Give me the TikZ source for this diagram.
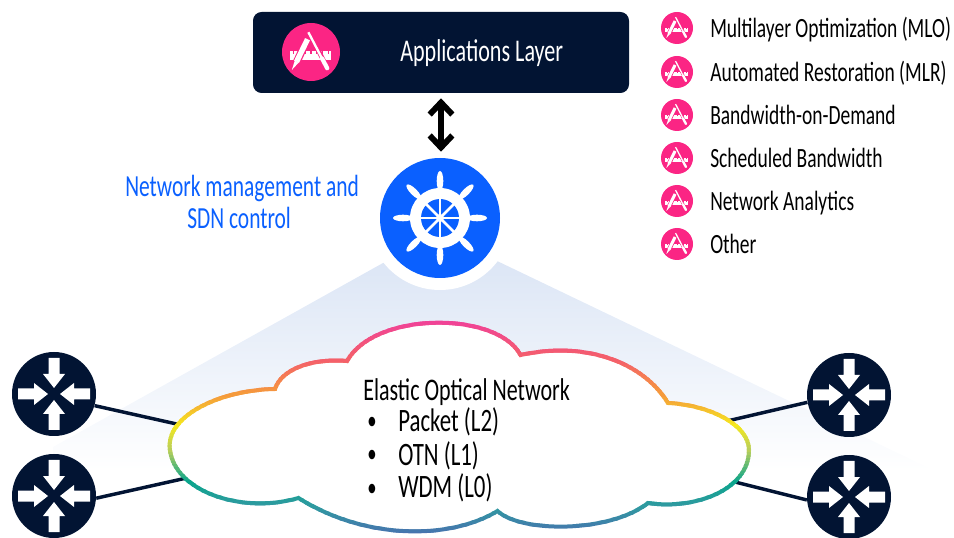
\documentclass[tikz,border=0pt]{standalone}
\usepackage{fontspec}
\usetikzlibrary{arrows.meta}
\newfontfamily\lblfont[FakeStretch=0.70]{Carlito}
\definecolor{navy}{HTML}{021433}
\definecolor{hotpink}{HTML}{FB2584}
\definecolor{hubblue}{HTML}{0A60FF}
\definecolor{beamtop}{HTML}{DBE5F5}
\definecolor{s1}{HTML}{F0409A}
\definecolor{s2}{HTML}{F4606A}
\definecolor{s3}{HTML}{F59A3C}
\definecolor{s4}{HTML}{F5E81E}
\definecolor{s5}{HTML}{B9CF5A}
\definecolor{s6}{HTML}{0AA58C}
\definecolor{s7}{HTML}{2F9AA0}
\definecolor{s8}{HTML}{4A6FB0}
\def\cloudpath{(169.6,445) .. controls (170,415) and (220,390) .. (275,389)
  .. controls (281,370) and (310,358) .. (347,361)
  .. controls (375,311) and (497,311) .. (520.5,355)
  .. controls (590,340) and (645,365) .. (668,403)
  .. controls (710,405) and (749,425) .. (749,450)
  .. controls (749,490) and (695,510) .. (648,503)
  .. controls (610,533) and (521,533) .. (497.5,511)
  .. controls (450,540) and (365,540) .. (298.5,498)
  .. controls (240,515) and (170,490) .. (169.6,445) -- cycle}
\tikzset{
  x=0.75pt,y=-0.75pt,
  routernode/.style={circle,fill=navy,inner sep=0pt,minimum size=63pt},
  pinkdisc/.style={circle,fill=hotpink,inner sep=0pt,minimum size=#1*1.5pt},
  hubnode/.style={circle,fill=hubblue,inner sep=0pt,minimum size=90pt},
  boxnode/.style={rectangle,rounded corners=6.5pt,fill=navy,inner sep=0pt,minimum width=282pt,minimum height=60.75pt},
  lbl/.style={anchor=base west,inner sep=0pt,font=\lblfont\fontsize{#1}{#1}\selectfont},
  link/.style={draw=navy,line width=2.6pt},
  dblarrow/.style={line width=4.4pt,black,{Straight Barb[length=9pt,width=17pt,line width=4.4pt]}-{Straight Barb[length=9pt,width=17pt,line width=4.4pt]}},
  pics/routerglyph/.style={code={
    \foreach \a in {0,90,180,270}{
      \fill[white,rotate=\a] (-5.5,-36) -- (5.5,-36) -- (5.5,-20) -- (11,-20) -- (0,-6) -- (-11,-20) -- (-5.5,-20) -- cycle;
    }}},
  pics/appglyph/.style={code={
    \begin{scope}[scale=#1]
      \fill[white] (-.72,-.02) rectangle (.70,.26);
      \foreach \t in {-.6,-.4,-.2,0,.2,.4,.6}{
        \draw[hotpink,line width=#1*0.03pt] (\t,-.02) -- (\t,.07);
      }
      \draw[hotpink,line width=#1*0.20pt] (-.62,.62) -- (-.10,-.50);
      \draw[hotpink,line width=#1*0.12pt] (-.09,-.72) -- (.59,.60);
      \draw[white,line width=#1*0.14pt] (-.50,.34) -- (-.12,-.44);
      \fill[white] (-.66,.62) -- (-.56,.30) -- (-.43,.37) -- cycle;
      \draw[white,line width=#1*0.06pt] (-.09,-.68) -- (.40,.26);
      \draw[white,line width=#1*0.11pt,line cap=round] (.38,.22) -- (.56,.56);
    \end{scope}}}
}
\begin{document}
\begin{tikzpicture}
\path[use as bounding box] (0,0) rectangle (954,538);
% beam
\begin{scope}
  \clip (383,263) -- (53,447) -- (53,480) -- (954,480) -- (495,260) -- cycle;
  \shade[top color=beamtop,bottom color=white] (0,255) rectangle (954,470);
\end{scope}
\coordinate (hubc) at (440,218);
\fill[white] (hubc) circle [radius=72];
% routers
\node[routernode] (r1) at (54,394) {};
\node[routernode] (r2) at (54,496) {};
\node[routernode] (r3) at (849,395) {};
\node[routernode] (r4) at (849,497) {};
\foreach \r in {r1,r2,r3,r4}{ \pic at (\r) {routerglyph}; }
% connectors
\coordinate (c1) at (190,427);
\coordinate (c2) at (200,475);
\coordinate (c3) at (710,425);
\coordinate (c4) at (715,477);
\draw[link] (r1.-16) -- (c1);
\draw[link] (r2.-3) -- (c2);
\draw[link] (r3.190) -- (c3);
\draw[link] (r4.184) -- (c4);
% cloud
\fill[white] \cloudpath;
\foreach \ya/\yb/\ca/\cb in {319/360/s1/s2,360/395/s2/s3,395/425/s3/s4,425/450/s4/s5,450/480/s5/s6,480/505/s6/s7,505/536/s7/s8}{
  \pgfmathtruncatemacro\nn{(\yb-\ya)/3}
  \foreach \k in {0,...,\nn}{
    \pgfmathsetmacro\pp{100*\k/\nn}
    \pgfmathsetmacro\yy{\ya+3*\k}
    \colorlet{bandc}{\cb!\pp!\ca}
    \begin{scope}
      \clip (150,\yy) rectangle (770,\yy+3.5);
      \draw[bandc,line width=3pt] \cloudpath;
    \end{scope}
  }
}
% top box
\node[boxnode] (box) at (441,52.5) {};
\node[pinkdisc=29] (appicon) at (311,52) {};
\pic at (appicon) {appglyph=29};
\node[lbl=23.7,white] (apptext) at (400,62) {Applications Layer};
% hub
\node[hubnode] (hub) at (hubc) {};
\fill[white] (hubc) circle [radius=30];
\fill[hubblue] (hubc) circle [radius=19];
\foreach \a in {0,45,...,315}{
  \fill[white,shift={(hubc)},rotate=\a] (0,-37) ellipse [x radius=3.3,y radius=10];
  \draw[white,line width=1.9pt,shift={(hubc)},rotate=\a] (0,0) -- (0,-20);
}
\fill[white] (hubc) circle [radius=4];
\draw[dblarrow,shorten <=3.75pt,shorten >=4.5pt] ([xshift=0.75pt]box.south -| hub) -- ([xshift=0.75pt]hub.north);
% hub label
\node[lbl=23,hubblue] (mgmt) at (125,197) {Network management and};
\node[lbl=23,hubblue] (sdn) at (187,229) {SDN control};
% legend
\foreach \n/\y/\t in {a/28/Multilayer Optimization (MLO),b/72/Automated Restoration (MLR),c/115/Bandwidth-on-Demand,d/158/Scheduled Bandwidth,e/201/Network Analytics,f/244/Other}{
  \node[pinkdisc=16] (leg\n) at (677,\y) {};
  \pic at (leg\n) {appglyph=16};
  \node[lbl=20.9,black] (txt\n) at (710,\y+10) {\t};
}
% cloud text
\node[lbl=23.6,black] (eon) at (363,401) {Elastic Optical Network};
\node[lbl=20,black] (b1) at (367,430) {•};
\node[lbl=24.5,black] (t1) at (398,431.5) {Packet (L2)};
\node[lbl=20,black] (b2) at (367,463) {•};
\node[lbl=24.5,black] (t2) at (398,465) {OTN (L1)};
\node[lbl=20,black] (b3) at (367,496) {•};
\node[lbl=24.5,black] (t3) at (398,498) {WDM (L0)};
\end{tikzpicture}
\end{document}
